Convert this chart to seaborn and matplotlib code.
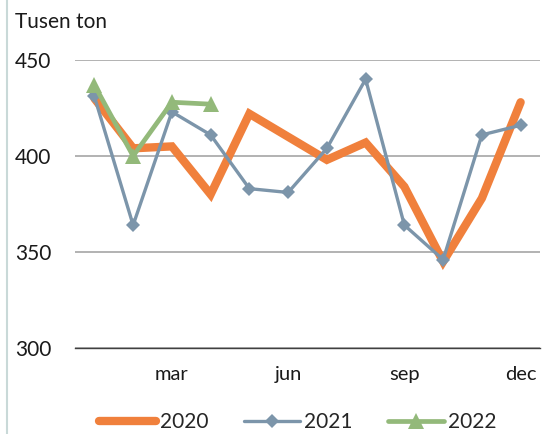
import matplotlib
matplotlib.use("Agg")
import matplotlib.pyplot as plt
import numpy as np
import pandas as pd
import seaborn as sns
from matplotlib.lines import Line2D

MONTHS = ["jan", "feb", "mar", "apr", "mai", "jun", "jul", "aug", "sep", "okt", "nov", "dec"]
SHOWN = {"mar", "jun", "sep", "dec"}
Y2020 = [430, 404, 405, 380, 422, 410, 398, 407, 384, 345, 378, 428]
Y2021 = [431, 364, 423, 411, 383, 381, 404, 440, 364, 346, 411, 416]
Y2022 = [437, 400, 428, 427]

COLORS = {"2020": "#F0803C", "2021": "#7C95AA", "2022": "#93B97A"}

sns.set_style("white")
plt.rcParams["font.family"] = ["Lato", "DejaVu Sans"]

rows = []
for year, vals in (("2020", Y2020), ("2021", Y2021), ("2022", Y2022)):
    for i, v in enumerate(vals):
        rows.append({"month": i, "value": v, "year": year})
df = pd.DataFrame(rows)

fig = plt.figure(figsize=(5.44, 4.34), dpi=100)
ax = fig.add_axes([75 / 544, 1 - 348 / 434, 465 / 544, 288 / 434])

style = {
    "2020": dict(lw=6, marker=None, ms=0),
    "2021": dict(lw=2.4, marker="D", ms=7),
    "2022": dict(lw=3.4, marker="^", ms=11),
}
for year in ["2020", "2021", "2022"]:
    s = style[year]
    sns.lineplot(data=df[df.year == year], x="month", y="value", ax=ax,
                 color=COLORS[year], linewidth=s["lw"], marker=s["marker"],
                 markersize=s["ms"], markeredgewidth=0, legend=False,
                 solid_capstyle="round", solid_joinstyle="miter")

ax.set_xlim(-0.5, 11.5)
ax.set_ylim(300, 450)
ax.set_yticks([300, 350, 400, 450])
ax.yaxis.grid(True, color="#A6A6A6", linewidth=1.2)
ax.set_axisbelow(True)
for sp in ["top", "right", "left"]:
    ax.spines[sp].set_visible(False)
ax.spines["bottom"].set_color("#404040")
ax.spines["bottom"].set_linewidth(1.0)

ax.set_xticks(range(12))
ax.set_xticklabels([m if m in SHOWN else "" for m in MONTHS])
ax.set_xticks(np.arange(-0.5, 12, 1), minor=True)
ax.tick_params(axis="x", which="major", length=0, pad=13, labelsize=14.5, colors="#1a1a1a")
ax.tick_params(axis="x", which="minor", length=5, direction="out", color="#404040", width=1)
ax.tick_params(axis="y", length=0, pad=17, labelsize=15, colors="#1a1a1a")
ax.set_xlabel("")
ax.set_ylabel("")

fig.text(15 / 544, 1 - 22 / 434, "Tusen ton", fontsize=15, color="#1a1a1a", va="center")

# left border
fig.add_artist(Line2D([7 / 544, 7 / 544], [0, 1], color="#C9D9D8", linewidth=1.5))

handles = [
    Line2D([], [], color=COLORS["2020"], lw=6, solid_capstyle="round"),
    Line2D([], [], color=COLORS["2021"], lw=2.4, marker="D", ms=7, markeredgewidth=0),
    Line2D([], [], color=COLORS["2022"], lw=3.4, marker="^", ms=11, markeredgewidth=0),
]
fig.legend(handles, ["2020", "2021", "2022"], loc="center", bbox_to_anchor=(0.548, 1 - 422 / 434),
           ncol=3, frameon=False, fontsize=15, handlelength=2.7, handletextpad=0.2,
           columnspacing=1.7)

fig.savefig("out.png", dpi=100)
